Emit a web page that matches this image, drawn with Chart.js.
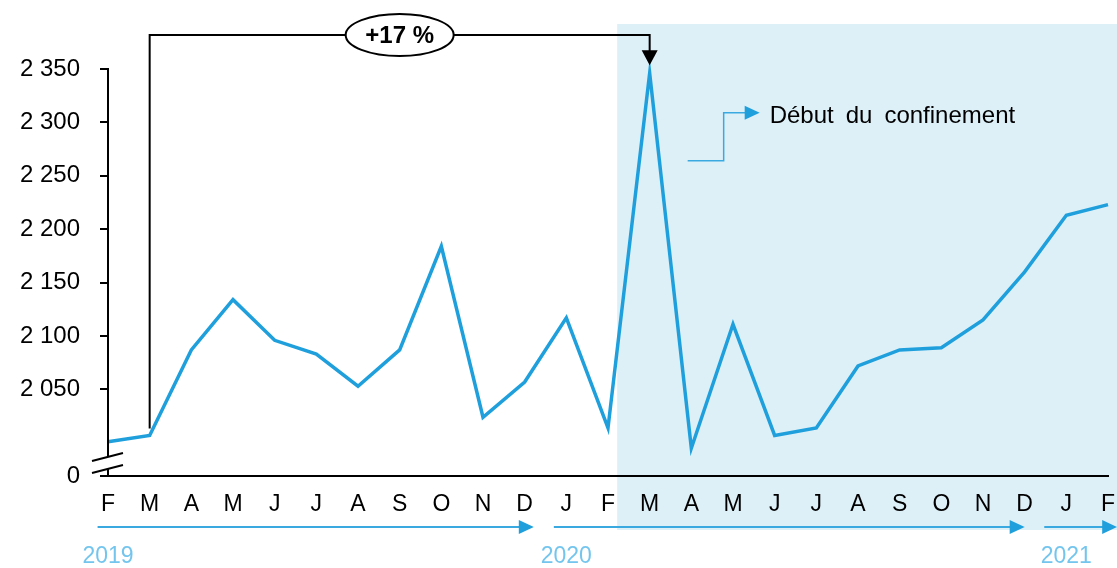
<!DOCTYPE html>
<html><head><meta charset="utf-8">
<script src="https://cdn.jsdelivr.net/npm/chart.js@4/dist/chart.umd.min.js"></script>
<style>html,body{margin:0;padding:0;background:#fff}#wrap{width:1117px;height:568px;position:relative}canvas{display:block}</style>
</head><body><div id="wrap"><canvas id="c" width="1117" height="568"></canvas></div>
<script>
const months = ['F','M','A','M','J','J','A','S','O','N','D','J','F','M','A','M','J','J','A','S','O','N','D','J','F'];
const values = [2001,2007,2087,2134,2096,2083,2053,2087,2184,2024,2057,2117,2014,2346,1995,2111,2007,2014,2072,2087,2089,2115,2160,2213,2223];
const yTicks = [1969,2050,2100,2150,2200,2250,2300,2350];
const yTickLabels = ['0','2 050','2 100','2 150','2 200','2 250','2 300','2 350'];
const years = ['2019','2020','2021'];
const yearStartIdx = [0,11,23];
const yearEndIdx = [10,22,24];
const baseIdx = 1;          // M 2019
const confinementIdx = 13;  // M 2020
const growthLabel = '+17 %';
const noteLabel = 'Début\u2002du\u2002confinement';

const FONT = '"Liberation Sans", Arial, sans-serif';
const LINE_BLUE = '#1fa0dc';

const deco = {
  id: 'deco',
  beforeDraw(chart) {
    const ctx = chart.ctx, xs = chart.scales.x, ca = chart.chartArea;
    const step = xs.getPixelForValue(1) - xs.getPixelForValue(0);
    const x0 = xs.getPixelForValue(confinementIdx - 1) + 0.22 * step;
    ctx.save();
    ctx.fillStyle = '#ddf0f8';
    ctx.fillRect(x0, ca.top, chart.width - x0, 530 - ca.top);
    ctx.restore();
  },
  afterDraw(chart) {
    const ctx = chart.ctx, xs = chart.scales.x, ys = chart.scales.y, ca = chart.chartArea;
    const step = xs.getPixelForValue(1) - xs.getPixelForValue(0);
    ctx.save();
    // y axis line with break
    const yb = ys.getPixelForValue(yTicks[0]);
    const yt = ys.getPixelForValue(yTicks[yTicks.length - 1]);
    ctx.strokeStyle = '#000'; ctx.lineWidth = 2;
    ctx.beginPath();
    ctx.moveTo(ca.left, yt - 1); ctx.lineTo(ca.left, yb - 19);
    ctx.moveTo(ca.left, yb - 7); ctx.lineTo(ca.left, yb);
    ctx.stroke();
    ctx.beginPath();
    ctx.moveTo(ca.left - 16, yb - 15); ctx.lineTo(ca.left + 15, yb - 23);
    ctx.moveTo(ca.left - 16, yb - 3); ctx.lineTo(ca.left + 15, yb - 11);
    ctx.stroke();

    // bracket +17 %
    const xa = xs.getPixelForValue(baseIdx), xb = xs.getPixelForValue(confinementIdx);
    const ya = ys.getPixelForValue(values[baseIdx]) - 7;
    const ybk = ca.top + 11;
    const tip = ys.getPixelForValue(values[confinementIdx]) - 8;
    ctx.beginPath();
    ctx.moveTo(xa, ya); ctx.lineTo(xa, ybk); ctx.lineTo(xb, ybk); ctx.lineTo(xb, tip - 12);
    ctx.stroke();
    ctx.fillStyle = '#000';
    ctx.beginPath();
    ctx.moveTo(xb - 8, tip - 15); ctx.lineTo(xb + 8, tip - 15); ctx.lineTo(xb, tip); ctx.closePath();
    ctx.fill();
    const ex = (xa + xb) / 2;
    ctx.beginPath();
    ctx.ellipse(ex, ybk, 54, 21, 0, 0, Math.PI * 2);
    ctx.fillStyle = '#fff'; ctx.fill(); ctx.stroke();
    ctx.fillStyle = '#000';
    ctx.font = 'bold 24px ' + FONT;
    ctx.textAlign = 'center'; ctx.textBaseline = 'middle';
    ctx.fillText(growthLabel, ex, ybk + 1);

    // note arrow
    const nx = xb, ny = ys.getPixelForValue(2309);
    ctx.strokeStyle = '#3aa9e0'; ctx.lineWidth = 1.5;
    ctx.beginPath();
    ctx.moveTo(nx + 38, ny + 48); ctx.lineTo(nx + 74, ny + 48); ctx.lineTo(nx + 74, ny); ctx.lineTo(nx + 96, ny);
    ctx.stroke();
    ctx.fillStyle = LINE_BLUE;
    ctx.beginPath();
    ctx.moveTo(nx + 95, ny - 7); ctx.lineTo(nx + 110, ny); ctx.lineTo(nx + 95, ny + 7); ctx.closePath();
    ctx.fill();
    ctx.fillStyle = '#000';
    ctx.font = '24px ' + FONT;
    ctx.textAlign = 'left'; ctx.textBaseline = 'alphabetic';
    ctx.fillText(noteLabel, nx + 120, ny + 10);

    // year arrows & labels
    const ay = 527;
    const starts = [-0.25, -0.3, -0.53];
    const ends = [0.22, 0.0, 0.22];
    years.forEach((yr, i) => {
      const s = xs.getPixelForValue(yearStartIdx[i]) + starts[i] * step;
      const e = xs.getPixelForValue(yearEndIdx[i]) + ends[i] * step;
      ctx.strokeStyle = '#3aa9df'; ctx.lineWidth = 2;
      ctx.beginPath(); ctx.moveTo(s, ay); ctx.lineTo(e - 10, ay); ctx.stroke();
      ctx.fillStyle = LINE_BLUE;
      ctx.beginPath(); ctx.moveTo(e - 15, ay - 7); ctx.lineTo(e, ay); ctx.lineTo(e - 15, ay + 7); ctx.closePath(); ctx.fill();
      ctx.fillStyle = '#74c5ee';
      ctx.font = '23px ' + FONT;
      ctx.textAlign = 'center'; ctx.textBaseline = 'middle';
      ctx.fillText(yr, xs.getPixelForValue(yearStartIdx[i]), 557);
    });
    ctx.restore();
  }
};

new Chart(document.getElementById('c'), {
  type: 'line',
  data: {
    labels: months,
    datasets: [{
      data: values,
      borderColor: LINE_BLUE,
      borderWidth: 3.5,
      pointRadius: 0,
      tension: 0,
      fill: false
    }]
  },
  options: {
    responsive: false,
    animation: false,
    devicePixelRatio: 1,
    layout: { padding: { top: 24, right: 9, left: 0, bottom: 0 } },
    plugins: { legend: { display: false }, tooltip: { enabled: false } },
    scales: {
      x: {
        offset: false,
        grid: { display: false },
        border: { display: true, color: '#000', width: 2 },
        ticks: { color: '#000', font: { family: FONT, size: 23 }, autoSkip: false, maxRotation: 0, padding: 7 },
        afterFit(s) { s.height = 92; s.paddingLeft = 0; s.paddingRight = 0; }
      },
      y: {
        min: 1969,
        max: 2392,
        afterBuildTicks(s) { s.ticks = yTicks.map(v => ({ value: v })); },
        grid: { display: true, drawOnChartArea: false, drawTicks: true, tickLength: 8, color: '#000', lineWidth: 2 },
        border: { display: false },
        ticks: {
          color: '#000', font: { family: FONT, size: 24 }, padding: 20,
          callback(v) { const i = yTicks.indexOf(v); return i >= 0 ? yTickLabels[i] : ''; }
        },
        afterFit(s) { s.width = 108; s.paddingTop = 0; s.paddingBottom = 0; }
      }
    }
  },
  plugins: [deco]
});
</script>
</body></html>
